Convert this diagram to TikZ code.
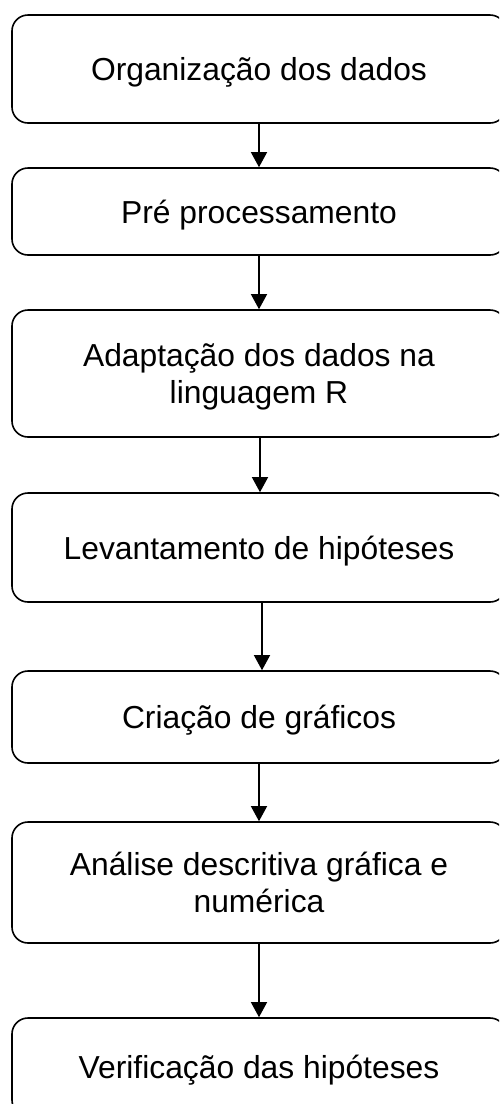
\documentclass[tikz,border=0pt]{standalone}
\usepackage{fontspec}
\setmainfont{Liberation Sans}
\usetikzlibrary{arrows.meta}
\tikzset{
  stepbox/.style={draw=black, line width=1.6pt, rounded corners=16pt, minimum width=494pt,
    align=center, inner sep=0pt, text depth=0pt, font=\fontsize{31.8}{37}\selectfont},
  flow/.style={line width=1.3pt, -{Triangle[length=15pt,width=16pt]}}
}
\begin{document}
\begin{tikzpicture}[x=1pt,y=-1pt]
\useasboundingbox (0,0) rectangle (499,1104);
\clip (0,0) rectangle (499,1104);
\fill[white] (0,0) rectangle (499,1104);
\node[stepbox, minimum height=108pt] (b1) at (259,69) {Organização dos dados};
\node[stepbox, minimum height=87pt] (b2) at (259,211.5) {Pré processamento};
\node[stepbox, minimum height=127pt] (b3) at (259,373.5) {Adaptação dos dados na\\linguagem R};
\node[stepbox, minimum height=109pt] (b4) at (259,547.5) {Levantamento de hipóteses};
\node[stepbox, minimum height=92pt] (b5) at (259,717) {Criação de gráficos};
\node[stepbox, minimum height=121pt] (b6) at (259,882.5) {Análise descritiva gráfica e\\numérica};
\node[stepbox, minimum height=98pt] (b7) at (259,1067) {Verificação das hipóteses};
\draw[flow] (b1.south) -- (b2.north);
\draw[flow] (b2.south) -- (b3.north);
\draw[flow] ([xshift=1pt]b3.south) -- ([xshift=1pt]b4.north);
\draw[flow] ([xshift=3pt]b4.south) -- ([xshift=3pt]b5.north);
\draw[flow] (b5.south) -- (b6.north);
\draw[flow] (b6.south) -- (b7.north);
\end{tikzpicture}
\end{document}
